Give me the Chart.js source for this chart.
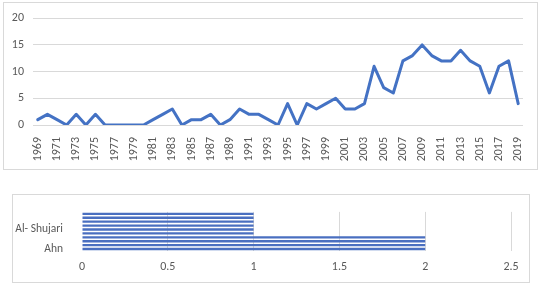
<!DOCTYPE html>
<html>
<head>
<meta charset="utf-8">
<script src="https://cdn.jsdelivr.net/npm/chart.js@4"></script>
<style>
  html, body { margin: 0; padding: 0; background: #fff; }
  body { width: 540px; height: 288px; position: relative; overflow: hidden; }
  .box { position: absolute; border: 1px solid #d9d9d9; box-sizing: border-box; }
  #boxTop { left: 3px; top: 2px; width: 535px; height: 168px; }
  #boxBot { left: 12px; top: 194px; width: 518px; height: 89px; }
  canvas { position: absolute; }
  #c1 { left: 3px; top: 2px; }
  #c2 { left: 12px; top: 194px; }
</style>
</head>
<body>
<div class="box" id="boxTop"></div>
<div class="box" id="boxBot"></div>
<canvas id="c1" width="534" height="166"></canvas>
<canvas id="c2" width="517" height="88"></canvas>
<script>
// ---- Top chart data ----
const years = [];
for (let y = 1969; y <= 2019; y++) years.push(String(y));
const counts = [1, 2, 1, 0, 2, 0, 2, 0, 0, 0, 0, 0, 1, 2, 3, 0, 1, 1, 2, 0,
  1, 3, 2, 2, 1, 0, 4, 0, 4, 3, 4, 5, 3, 3, 4, 11, 7, 6, 12, 13,
  15, 13, 12, 12, 14, 12, 11, 6, 11, 12, 4];
const yTicks = [0, 5, 10, 15, 20];

// ---- Bottom chart data (first category at bottom, as in the reference) ----
const authors = ['Ahn', '', '', '', '', 'Al- Shujari', '', '', '', ''];
const authorValues = [2, 2, 2, 2, 1, 1, 1, 1, 1, 1];
const xTicksBottom = [0, 0.5, 1, 1.5, 2, 2.5];

const FONT = 'Carlito, Lato, "Liberation Sans", sans-serif';
const TICK = '#595959';
const GRID = '#d9d9d9';
const BLUE = '#4472c4';

new Chart(document.getElementById('c1'), {
  type: 'line',
  data: {
    labels: years,
    datasets: [{
      data: counts,
      borderColor: BLUE,
      borderWidth: 3,
      pointRadius: 0,
      tension: 0,
      borderJoinStyle: 'round',
      borderCapStyle: 'round',
      fill: false
    }]
  },
  options: {
    responsive: false,
    animation: false,
    layout: { padding: { top: 15, right: 14, left: 0, bottom: 0 } },
    plugins: { legend: { display: false }, tooltip: { enabled: false } },
    scales: {
      x: {
        offset: true,
        grid: { display: false },
        border: { display: false },
        ticks: {
          autoSkip: false,
          maxRotation: 90,
          minRotation: 90,
          padding: 4,
          color: TICK,
          font: { family: FONT, size: 12 },
          callback: function (v, i) { return i % 2 === 0 ? this.getLabelForValue(v) : ''; }
        },
        afterFit: s => { s.height = 43; }
      },
      y: {
        min: 0,
        max: 20,
        afterBuildTicks: s => { s.ticks = yTicks.map(v => ({ value: v })); },
        grid: { color: GRID, lineWidth: 1, drawTicks: false },
        border: { display: false },
        ticks: { padding: 9, color: TICK, font: { family: FONT, size: 12 } },
        afterFit: s => { s.width = 30; }
      }
    }
  }
});

new Chart(document.getElementById('c2'), {
  type: 'bar',
  data: {
    labels: authors,
    datasets: [{
      data: authorValues,
      backgroundColor: '#4a6fc0',
      borderWidth: 0,
      barPercentage: 0.6,
      categoryPercentage: 1
    }]
  },
  options: {
    indexAxis: 'y',
    responsive: false,
    animation: false,
    layout: { padding: { top: 14, right: 18, left: 0, bottom: 0 } },
    plugins: { legend: { display: false }, tooltip: { enabled: false } },
    scales: {
      x: {
        min: 0,
        max: 2.5,
        afterBuildTicks: s => { s.ticks = xTicksBottom.map(v => ({ value: v })); },
        grid: { color: ctx => (ctx.tick && ctx.tick.value === 0 ? 'rgba(0,0,0,0)' : GRID), drawTicks: false },
        border: { display: false },
        ticks: {
          padding: 9, color: TICK, font: { family: FONT, size: 12 },
          callback: v => String(v)
        },
        afterFit: s => { s.height = 31; }
      },
      y: {
        reverse: true,
        grid: { display: false },
        border: { display: false },
        ticks: { autoSkip: false, padding: 11, color: TICK, font: { family: FONT, size: 11.5 } },
        afterFit: s => { s.width = 70; }
      }
    }
  }
});
</script>
</body>
</html>
